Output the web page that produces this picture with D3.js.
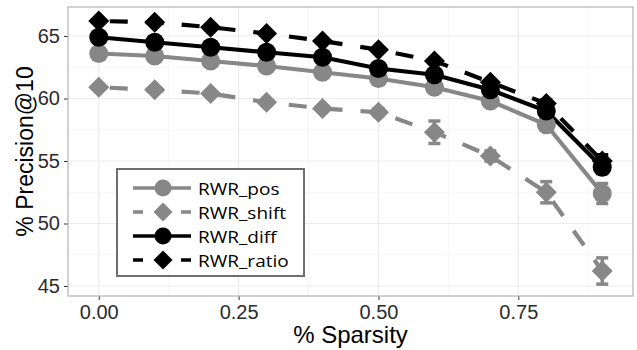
<!DOCTYPE html>
<html>
<head>
<meta charset="utf-8">
<script src="https://cdn.jsdelivr.net/npm/d3@7"></script>
<style>
  body { margin: 0; background: #fff; }
  svg { display: block; }
  .tick text { font-family: "Liberation Sans", Arial, sans-serif; }
</style>
</head>
<body>
<svg id="chart" width="637" height="350"></svg>
<script>
// sparsity levels on the x axis
const sparsity = [0, 0.1, 0.2, 0.3, 0.4, 0.5, 0.6, 0.7, 0.8, 0.9];

// precision@10 per method
const rwrPos   = [63.6, 63.4, 63.0, 62.6, 62.1, 61.6, 60.9, 59.8, 57.9, 52.4];
const rwrShift = [60.9, 60.7, 60.4, 59.7, 59.2, 58.9, 57.3, 55.4, 52.5, 46.2];
const rwrDiff  = [64.9, 64.5, 64.1, 63.7, 63.3, 62.4, 61.9, 60.7, 59.0, 54.5];
const rwrRatio = [66.2, 66.1, 65.7, 65.2, 64.6, 63.9, 63.0, 61.3, 59.6, 55.0];

// standard errors (most are hidden behind the markers)
const errPos   = [0.15, 0.15, 0.15, 0.15, 0.15, 0.2, 0.2, 0.25, 0.4, 0.8];
const errShift = [0.15, 0.15, 0.15, 0.2, 0.2, 0.3, 0.9, 0.4, 0.85, 1.05];
const errDiff  = [0.1, 0.1, 0.1, 0.1, 0.15, 0.15, 0.2, 0.2, 0.3, 0.5];
const errRatio = [0.1, 0.1, 0.1, 0.1, 0.15, 0.15, 0.2, 0.2, 0.3, 0.5];

const xTicks = [0, 0.25, 0.5, 0.75];
const yTicks = [45, 50, 55, 60, 65];

const seriesNames = ["RWR_pos", "RWR_shift", "RWR_diff", "RWR_ratio"];

const GREY = "#878787";
const series = [
  { name: seriesNames[0], values: rwrPos, err: errPos, color: GREY, dashed: false, shape: "circle" },
  { name: seriesNames[1], values: rwrShift, err: errShift, color: GREY, dashed: true, shape: "diamond" },
  { name: seriesNames[2], values: rwrDiff, err: errDiff, color: "#000", dashed: false, shape: "circle" },
  { name: seriesNames[3], values: rwrRatio, err: errRatio, color: "#000", dashed: true, shape: "diamond" }
];

const svg = d3.select("#chart");
const panel = { left: 68, top: 7, width: 565, height: 289 };

const x = d3.scaleLinear().domain([-0.055, 0.955]).range([0, panel.width]);
const y = d3.scaleLinear().domain([44.2, 67.32]).range([panel.height, 0]);

const g = svg.append("g").attr("transform", `translate(${panel.left},${panel.top})`);

// minor grid
const xMinor = xTicks.map(d => d + 0.125);
const yMinor = yTicks.slice(0, -1).map(d => d + 2.5);
g.append("g").selectAll("line").data(xMinor).join("line")
  .attr("x1", d => x(d)).attr("x2", d => x(d)).attr("y1", 0).attr("y2", panel.height)
  .attr("stroke", "#f4f4f4").attr("stroke-width", 0.8);
g.append("g").selectAll("line").data(yMinor).join("line")
  .attr("y1", d => y(d)).attr("y2", d => y(d)).attr("x1", 0).attr("x2", panel.width)
  .attr("stroke", "#f4f4f4").attr("stroke-width", 0.8);

// major grid
g.append("g").selectAll("line").data(xTicks).join("line")
  .attr("x1", d => x(d)).attr("x2", d => x(d)).attr("y1", 0).attr("y2", panel.height)
  .attr("stroke", "#ebebeb").attr("stroke-width", 1.2);
g.append("g").selectAll("line").data(yTicks).join("line")
  .attr("y1", d => y(d)).attr("y2", d => y(d)).attr("x1", 0).attr("x2", panel.width)
  .attr("stroke", "#ebebeb").attr("stroke-width", 1.2);

// axes
const xAxis = g.append("g").attr("transform", `translate(0,${panel.height})`)
  .call(d3.axisBottom(x).tickValues(xTicks).tickFormat(d3.format(".2f")).tickSizeInner(4).tickSizeOuter(0).tickPadding(5));
const yAxis = g.append("g")
  .call(d3.axisLeft(y).tickValues(yTicks).tickSizeInner(4).tickSizeOuter(0).tickPadding(4));
[xAxis, yAxis].forEach(a => {
  a.select(".domain").remove();
  a.selectAll(".tick line").attr("stroke", "#333").attr("stroke-width", 1);
  a.selectAll(".tick text").attr("fill", "#2b2b2b").style("font-size", "20px");
});

// lines, error bars, points
const line = d3.line().x((d, i) => x(sparsity[i])).y(d => y(d));
const diamond = r => `M0,${-r}L${r},0L0,${r}L${-r},0Z`;

series.forEach(s => {
  g.append("path")
    .attr("d", line(s.values))
    .attr("fill", "none")
    .attr("stroke", s.color)
    .attr("stroke-width", 4.2)
    .attr("stroke-dasharray", s.dashed ? "18,18" : null)
    .attr("stroke-dashoffset", s.dashed ? -11 : null);
});

series.forEach(s => {
  const eb = g.append("g").attr("stroke", s.color).attr("stroke-width", 3.5);
  s.values.forEach((v, i) => {
    const cx = x(sparsity[i]);
    eb.append("line").attr("x1", cx).attr("x2", cx).attr("y1", y(v - s.err[i])).attr("y2", y(v + s.err[i]));
    [v - s.err[i], v + s.err[i]].forEach(e => {
      eb.append("line").attr("x1", cx - 6).attr("x2", cx + 6).attr("y1", y(e)).attr("y2", y(e));
    });
  });
});

series.forEach(s => {
  const pts = g.append("g").attr("fill", s.color);
  s.values.forEach((v, i) => {
    if (s.shape === "circle") {
      pts.append("circle").attr("cx", x(sparsity[i])).attr("cy", y(v)).attr("r", 9.5);
    } else {
      pts.append("path").attr("d", diamond(10.5))
        .attr("transform", `translate(${x(sparsity[i])},${y(v)})`);
    }
  });
});

// panel border
g.append("rect").attr("width", panel.width).attr("height", panel.height)
  .attr("fill", "none").attr("stroke", "#b3b3b3").attr("stroke-width", 1.2);

// axis titles
svg.append("text")
  .attr("x", panel.left + panel.width / 2).attr("y", 343)
  .attr("text-anchor", "middle")
  .style("font-family", "'Liberation Sans', Arial, sans-serif").style("font-size", "24px")
  .text("% Sparsity");
svg.append("text")
  .attr("transform", `translate(33,${panel.top + panel.height / 2}) rotate(-90)`)
  .attr("text-anchor", "middle")
  .style("font-family", "'Liberation Sans', Arial, sans-serif").style("font-size", "23px")
  .text("% Precision@10");

// legend
const legend = svg.append("g").attr("transform", "translate(117,169)");
legend.append("rect").attr("width", 187).attr("height", 107)
  .attr("fill", "#fff").attr("stroke", "#6e6e6e").attr("stroke-width", 2);
series.forEach((s, i) => {
  const row = legend.append("g").attr("transform", `translate(0,${19 + i * 24})`);
  row.append("line").attr("x1", 16).attr("x2", 74).attr("y1", 0).attr("y2", 0)
    .attr("stroke", s.color).attr("stroke-width", 3.6)
    .attr("stroke-dasharray", s.dashed ? "10,38" : null);
  if (s.shape === "circle") {
    row.append("circle").attr("cx", 46).attr("cy", 0).attr("r", 8.5).attr("fill", s.color);
  } else {
    row.append("path").attr("d", diamond(9.5)).attr("transform", "translate(46,0)").attr("fill", s.color);
  }
  row.append("text").attr("transform", "translate(81,6.5) scale(1.12,1)")
    .style("font-family", "'Open Sans', sans-serif").style("font-size", "17px")
    .attr("fill", "#000")
    .text(s.name);
});
</script>
</body>
</html>
